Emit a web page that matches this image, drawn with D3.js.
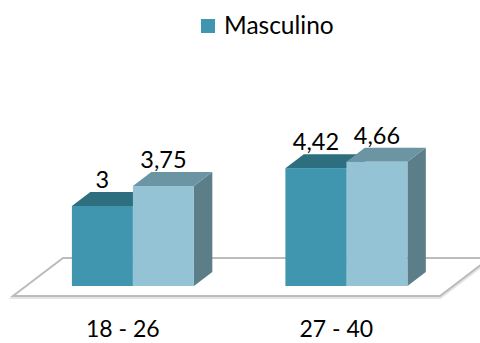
<!DOCTYPE html>
<html lang="es">
<head>
<meta charset="UTF-8">
<script src="https://d3js.org/d3.v7.min.js"></script>
<style>
  body { margin: 0; background: #fff; }
  text { font-family: Lato, "Open Sans", sans-serif; fill: #000; }
</style>
</head>
<body>
<svg id="chart" width="480" height="343"></svg>
<script>
  const categories = ["18 - 26", "27 - 40"];
  const seriesNames = ["Masculino", "Serie 2"];
  const masculino = [3, 4.42];
  const serie2 = [3.75, 4.66];
  const legendNames = ["Masculino"];

  const seriesValues = [masculino, serie2];
  const fronts = ["#4096af", "#93c3d4"];
  const tops = ["#2e6f7f", "#6b95a3"];
  const sides = ["#2a6675", "#5b7e89"];

  const svg = d3.select("#chart");
  const loc = d3.formatLocale({ decimal: ",", thousands: ".", grouping: [3], currency: ["", ""] });
  const fmt = loc.format("~f");

  // floor (front edge) and depth projection
  const floorFront = 296, floorDepth = 38, k = 50 / 38;
  const x = d3.scaleBand().domain(categories).range([13, 440]);
  const groupW = 122;
  const xs = d3.scaleBand().domain(seriesNames).range([0, groupW]);
  const y = d3.scaleLinear().domain([0, 6]).range([286, 126]);

  const barOff = floorFront - y(0);    // depth from floor front to bar front
  const dy = 14, dx = dy * k;          // bar depth

  // floor
  const fl = [[13, floorFront], [440, floorFront],
              [440 + floorDepth * k, floorFront - floorDepth],
              [13 + floorDepth * k, floorFront - floorDepth]];
  svg.append("polygon")
    .attr("points", fl.map(p => [p[0], p[1] + 1.5].join(",")).join(" "))
    .attr("fill", "none").attr("stroke", "#e4e4e4").attr("stroke-width", 3);
  svg.append("polygon")
    .attr("points", fl.map(p => p.join(",")).join(" "))
    .attr("fill", "#fff").attr("stroke", "#bcbcbc").attr("stroke-width", 2);

  categories.forEach((c, ci) => {
    const gx = x(c) + (x.bandwidth() - groupW) / 2 + barOff * k;
    seriesNames.forEach((s, si) => {
      const v = seriesValues[si][ci];
      const x0 = gx + xs(s), x1 = x0 + xs.bandwidth();
      const yt = y(v), yb = y(0);
      const g = svg.append("g");
      g.append("polygon")
        .attr("points", [[x1, yt], [x1 + dx, yt - dy], [x1 + dx, yb - dy], [x1, yb]].join(" "))
        .attr("fill", sides[si]);
      g.append("polygon")
        .attr("points", [[x0, yt], [x1, yt], [x1 + dx, yt - dy], [x0 + dx, yt - dy]].join(" "))
        .attr("fill", tops[si]);
      g.append("rect")
        .attr("x", x0).attr("y", yt)
        .attr("width", x1 - x0).attr("height", yb - yt)
        .attr("fill", fronts[si]);
      g.append("text")
        .attr("x", (x0 + x1) / 2)
        .attr("y", yt - dy - 4)
        .attr("text-anchor", "middle")
        .style("font-size", "23.5px")
        .text(fmt(v));
    });
  });

  // category labels
  svg.selectAll(".cat")
    .data(categories)
    .enter().append("text")
    .attr("class", "cat")
    .attr("x", d => x(d) + x.bandwidth() / 2 + 3)
    .attr("y", 337)
    .attr("text-anchor", "middle")
    .style("font-size", "23px")
    .text(d => d);

  // legend
  const lg = svg.append("g").attr("transform", "translate(201,19)");
  lg.append("rect").attr("width", 14).attr("height", 14).attr("fill", fronts[0]);
  lg.append("text").attr("x", 23).attr("y", 14.5)
    .style("font-size", "24.5px").text(legendNames[0]);
</script>
</body>
</html>
